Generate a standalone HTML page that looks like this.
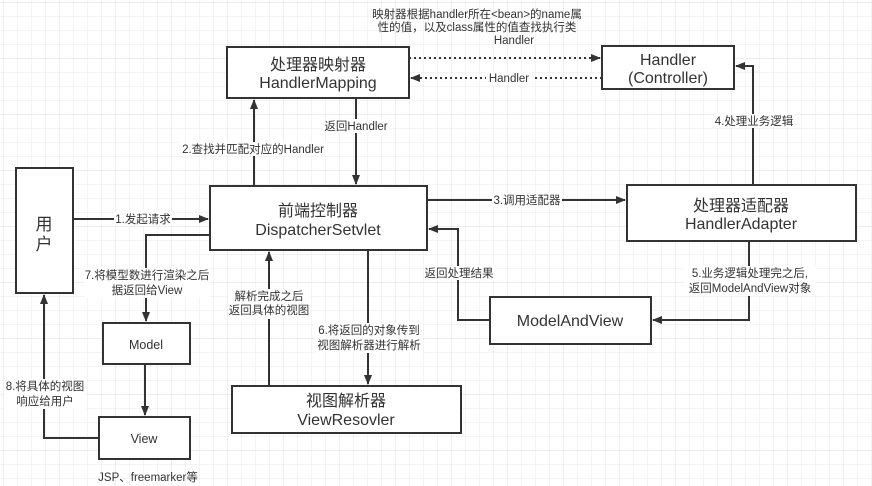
<!DOCTYPE html>
<html><head><meta charset="utf-8"><style>
html,body{margin:0;padding:0;background:#fff;}
svg{display:block;}
text{font-family:"Liberation Sans","Noto Sans CJK SC",sans-serif;fill:#333;}
.b{font-size:16px;text-anchor:middle;}
.l{font-size:11.5px;text-anchor:middle;}
</style></head><body>
<svg width="872" height="486" viewBox="0 0 872 486" xmlns="http://www.w3.org/2000/svg">
<defs>
<pattern id="g" x="3" y="2" width="14" height="14" patternUnits="userSpaceOnUse"><path d="M14 0H0V14" fill="none" stroke="#e8e8e8" stroke-width="1"/></pattern>
<pattern id="G" x="3" y="2" width="56" height="56" patternUnits="userSpaceOnUse"><path d="M56 0H0V56" fill="none" stroke="#dcdcdc" stroke-width="1"/></pattern>
<marker id="a" markerWidth="10" markerHeight="8" refX="9" refY="4" orient="auto" markerUnits="userSpaceOnUse"><path d="M0 0L10 4L0 8Z" fill="#333"/></marker>
</defs>
<rect width="872" height="486" fill="url(#g)"/>
<rect width="872" height="486" fill="url(#G)"/>
<g fill="none" stroke="#333" stroke-width="2">
<line x1="409" y1="58" x2="600" y2="58" stroke-dasharray="2,3" marker-end="url(#a)"/>
<line x1="602" y1="78" x2="411" y2="78" stroke-dasharray="2,3" marker-end="url(#a)"/>
<line x1="254" y1="186" x2="254" y2="100" marker-end="url(#a)"/>
<line x1="356" y1="98" x2="356" y2="184" marker-end="url(#a)"/>
<line x1="73" y1="219" x2="208" y2="219" marker-end="url(#a)"/>
<line x1="427" y1="200" x2="625" y2="200" marker-end="url(#a)"/>
<polyline points="753,185 753,66 736,66" marker-end="url(#a)"/>
<polyline points="749,241 749,320 653,320" marker-end="url(#a)"/>
<polyline points="490,320 458,320 458,229 429,229" marker-end="url(#a)"/>
<polyline points="210,235 146,235 146,321" marker-end="url(#a)"/>
<line x1="145" y1="364" x2="145" y2="415" marker-end="url(#a)"/>
<polyline points="99,438 44,438 44,295" marker-end="url(#a)"/>
<line x1="368" y1="250" x2="368" y2="384" marker-end="url(#a)"/>
<line x1="269" y1="386" x2="269" y2="252" marker-end="url(#a)"/>
</g>
<g fill="#fff" stroke="#333" stroke-width="2">
<rect x="227" y="47" width="182" height="51"/>
<rect x="602" y="46" width="132" height="43"/>
<rect x="16" y="168" width="57" height="125"/>
<rect x="210" y="186" width="217" height="64"/>
<rect x="627" y="185" width="229" height="56"/>
<rect x="490" y="297" width="161" height="47"/>
<rect x="103" y="323" width="87" height="41"/>
<rect x="99" y="417" width="91" height="42"/>
<rect x="232" y="386" width="229" height="47"/>
</g>
<text class="b" x="318" y="70">处理器映射器</text>
<text class="b" x="318" y="88">HandlerMapping</text>
<text class="b" x="668" y="65">Handler</text>
<text class="b" x="668" y="83">(Controller)</text>
<text class="b" x="44" y="230" style="font-size:17px">用</text>
<text class="b" x="44" y="250" style="font-size:17px">户</text>
<text class="b" x="318" y="216">前端控制器</text>
<text class="b" x="318" y="235">DispatcherSetvlet</text>
<text class="b" x="741" y="211">处理器适配器</text>
<text class="b" x="741" y="229">HandlerAdapter</text>
<text class="b" x="570" y="326">ModelAndView</text>
<text class="b" x="146" y="349" style="font-size:12.5px">Model</text>
<text class="b" x="144" y="443" style="font-size:12.5px">View</text>
<text class="b" x="346" y="406">视图解析器</text>
<text class="b" x="346" y="425">ViewResovler</text>
<g>
<text class="l" x="477" y="18">映射器根据handler所在&lt;bean&gt;的name属</text>
<text class="l" x="477" y="31">性的值，以及class属性的值查找执行类</text>
<text class="l" x="514" y="44">Handler</text>
<rect x="486" y="71" width="46" height="14" fill="#fff"/>
<text class="l" x="509" y="82">Handler</text>
<rect x="322" y="119" width="68" height="14" fill="#fff"/>
<text class="l" x="356" y="130">返回Handler</text>
<rect x="180" y="142" width="147" height="14" fill="#fff"/>
<text class="l" x="253" y="153">2.查找并匹配对应的Handler</text>
<rect x="114" y="212" width="58" height="14" fill="#fff"/>
<text class="l" x="143" y="223">1.发起请求</text>
<rect x="492" y="193" width="70" height="14" fill="#fff"/>
<text class="l" x="527" y="204">3.调用适配器</text>
<rect x="714" y="114" width="80" height="14" fill="#fff"/>
<text class="l" x="754" y="125">4.处理业务逻辑</text>
<rect x="684" y="266" width="132" height="30" fill="#fff"/>
<text class="l" x="750" y="277">5.业务逻辑处理完之后,</text>
<text class="l" x="750" y="292">返回ModelAndView对象</text>
<rect x="424" y="266" width="70" height="14" fill="#fff"/>
<text class="l" x="459" y="277">返回处理结果</text>
<rect x="84" y="268" width="126" height="30" fill="#fff"/>
<text class="l" x="147" y="279">7.将模型数进行渲染之后</text>
<text class="l" x="147" y="294">据返回给View</text>
<rect x="4" y="379" width="82" height="30" fill="#fff"/>
<text class="l" x="45" y="390">8.将具体的视图</text>
<text class="l" x="45" y="405">响应给用户</text>
<rect x="315" y="323" width="108" height="30" fill="#fff"/>
<text class="l" x="369" y="334">6.将返回的对象传到</text>
<text class="l" x="369" y="349">视图解析器进行解析</text>
<rect x="228" y="289" width="82" height="30" fill="#fff"/>
<text class="l" x="269" y="300">解析完成之后</text>
<text class="l" x="269" y="314">返回具体的视图</text>
<text class="l" x="148" y="481">JSP、freemarker等</text>
</g>
</svg>
</body></html>
